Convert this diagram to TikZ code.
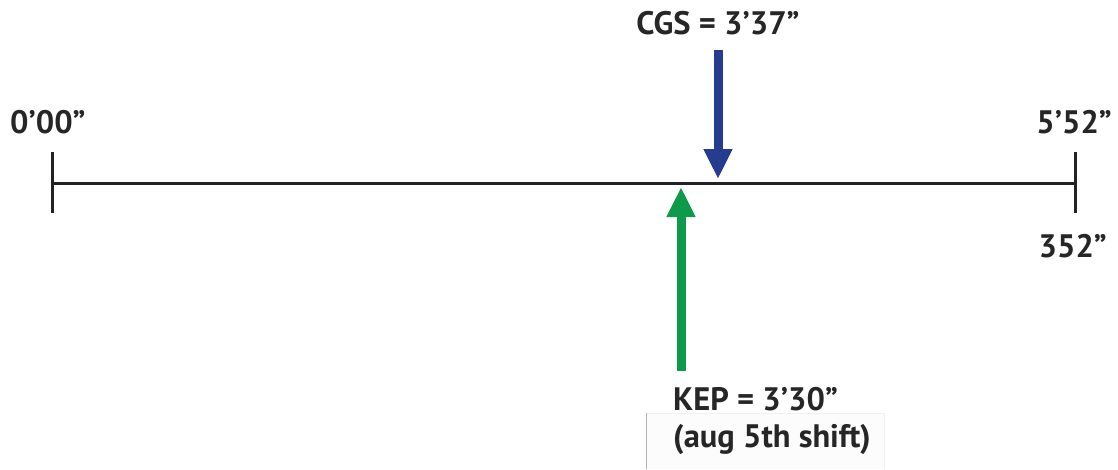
\documentclass[tikz,border=0pt]{standalone}
\usepackage{fontspec}
\setmainfont{PT Sans}
\usetikzlibrary{arrows.meta}
\definecolor{cgsblue}{HTML}{263C8E}
\definecolor{kepgreen}{HTML}{0E9A4A}
\definecolor{axisgray}{HTML}{222222}
\tikzset{
  axis/.style={draw=axisgray, line width=3pt},
  tick/.style={draw=axisgray, line width=3pt},
  marker/.style={line width=9pt, -{Triangle[width=27pt,length=30pt]}},
  lbl/.style={inner sep=0pt, text=black!85, font=\fontsize{32.5}{38}\selectfont\bfseries},
}
\begin{document}
\begin{tikzpicture}[x=1pt, y=-1pt]
  \useasboundingbox (0,0) rectangle (1118,469);

  % faint frame behind the shift note
  \fill[black!1] (646,413) rectangle (884,469);
  \draw[black!6, line width=0.8pt] (646,469) -- (646,413) -- (884,413) -- (884,469);
  \draw[black!30, line width=1pt] (646,413) -- (646,469);

  % time axis and its end ticks
  \coordinate (start) at (52,183);
  \coordinate (end) at (1075,183);
  \coordinate (startTop) at (52,152);
  \coordinate (startBot) at (52,213);
  \coordinate (endTop) at (1075,152);
  \coordinate (endBot) at (1075,213);
  \draw[axis] (start) -- (end);
  \draw[tick] (startTop) -- (startBot);
  \draw[tick] (endTop) -- (endBot);

  % end labels
  \node[lbl, anchor=base west] (t0) at (10,133) {0’00”};
  \node[lbl, anchor=base east] (t1) at (1112,133) {5’52”};
  \node[lbl, anchor=base east] (t1s) at (1107,257) {352”};

  % CGS marker from above
  \node[lbl, anchor=base] (cgs) at (718,34) {CGS = 3’37”};
  \coordinate (cgsTail) at (718,50);
  \coordinate (cgsTip) at (718,179);
  \draw[marker, draw=cgsblue, fill=cgsblue] (cgsTail) -- (cgsTip);

  % KEP marker from below
  \coordinate (kepTail) at (681,371);
  \coordinate (kepTip) at (681,187);
  \draw[marker, draw=kepgreen, fill=kepgreen] (kepTail) -- (kepTip);
  \node[lbl, anchor=base west] (kep) at (673,410) {KEP = 3’30”};
  \node[lbl, anchor=base west] (shift) at (673,447) {(aug 5th shift)};
\end{tikzpicture}
\end{document}
